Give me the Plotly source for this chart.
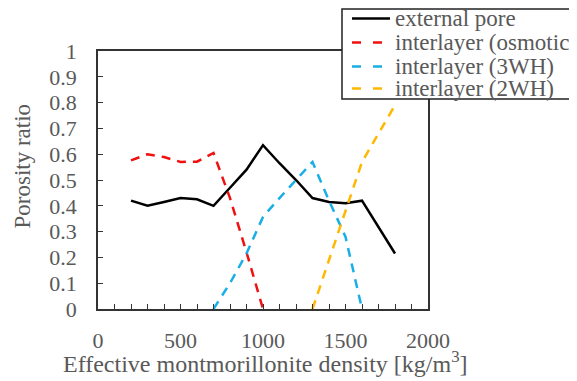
import plotly.graph_objects as go

density = [200, 300, 400, 500, 600, 700, 800, 900, 1000, 1100, 1200, 1300, 1400, 1500, 1600, 1700, 1800]
external_pore = [0.42, 0.40, 0.415, 0.43, 0.425, 0.40, 0.47, 0.54, 0.635, 0.565, 0.50, 0.43, 0.415, 0.41, 0.42, 0.32, 0.215]

osm_x = [200, 300, 400, 500, 600, 700, 800, 900, 1000]
osm_y = [0.576, 0.60, 0.589, 0.57, 0.571, 0.605, 0.43, 0.22, 0.0]

wh3_x = [700, 800, 900, 1000, 1100, 1200, 1300, 1400, 1500, 1600]
wh3_y = [0.0, 0.1, 0.215, 0.357, 0.43, 0.50, 0.57, 0.42, 0.28, 0.0]

wh2_x = [1300, 1400, 1500, 1600, 1700, 1800]
wh2_y = [0.0, 0.19, 0.38, 0.57, 0.68, 0.79]

names = ["external pore", "interlayer (osmotic)", "interlayer (3WH)", "interlayer (2WH)"]
colors = ["black", "#f01010", "#18aee6", "#ffb800"]
dashes = ["solid", "9px,7px", "9px,7px", "9px,7px"]

FONT = "Liberation Serif"
GRAY = "#595959"
AXC = "#333333"

# plot area in figure pixels (page is offset by the 8px body margin)
L, T, W, H = 90, 43, 330, 258
FW, FH = 577, 381


def px(fx):
    return (fx - L) / W


def py(fy):
    return (T + H - fy) / H


fig = go.Figure()
series = [(density, external_pore), (osm_x, osm_y), (wh3_x, wh3_y), (wh2_x, wh2_y)]
for (xs, ys), nm, c, d in zip(series, names, colors, dashes):
    fig.add_trace(go.Scatter(x=xs, y=ys, mode="lines", name=nm,
                             line=dict(color=c, width=2.5, dash=d)))

shapes = []
annotations = []
# legend box
shapes.append(dict(type="rect", xref="paper", yref="paper",
                   x0=px(334), x1=px(600), y0=py(91), y1=py(1),
                   line=dict(color="#222", width=1.5), fillcolor="white", layer="above"))
rows = [10.5, 34.5, 58.5, 80.5]
for ry, nm, c, d in zip(rows, names, colors, dashes):
    shapes.append(dict(type="line", xref="paper", yref="paper",
                       x0=px(344), x1=px(382), y0=py(ry), y1=py(ry),
                       line=dict(color=c, width=2.5, dash=("solid" if d == "solid" else "9px,12px")),
                       layer="above"))
    annotations.append(dict(text=nm, xref="paper", yref="paper", x=px(385), y=py(ry),
                            xanchor="left", yanchor="middle", showarrow=False,
                            font=dict(family=FONT, size=23, color=GRAY)))

annotations.append(dict(text="Porosity ratio", xref="paper", yref="paper",
                        x=px(14), y=py(158.5), textangle=-90, xanchor="center", yanchor="middle",
                        showarrow=False, font=dict(family=FONT, size=23, color=GRAY)))
annotations.append(dict(text="Effective montmorillonite density [kg/m<sup>3</sup>]",
                        xref="paper", yref="paper", x=px(257), y=py(354),
                        xanchor="center", yanchor="middle", showarrow=False,
                        font=dict(family=FONT, size=24, color=GRAY)))

fig.update_layout(
    width=FW, height=FH,
    margin=dict(l=L, r=FW - L - W, t=T, b=FH - T - H, autoexpand=False),
    paper_bgcolor="white", plot_bgcolor="white",
    font=dict(family=FONT, size=22, color=GRAY),
    showlegend=False,
    shapes=shapes,
    annotations=annotations,
    xaxis=dict(range=[0, 2000], dtick=500, tick0=0, ticks="inside", ticklen=5,
               tickcolor=AXC, showline=True, linecolor=AXC, linewidth=1.5,
               mirror=True, showgrid=False, zeroline=False, ticklabelstandoff=11,
               tickfont=dict(family=FONT, size=22, color=GRAY),
               minor=dict(dtick=100, ticks="inside", ticklen=5, tickcolor=AXC)),
    yaxis=dict(range=[0, 1], dtick=0.1, tick0=0, ticks="inside", ticklen=5,
               tickcolor=AXC, showline=True, linecolor=AXC, linewidth=1.5,
               mirror=True, showgrid=False, zeroline=False, ticklabelstandoff=15,
               tickfont=dict(family=FONT, size=22, color=GRAY)),
)

fig.write_html("out.html")
